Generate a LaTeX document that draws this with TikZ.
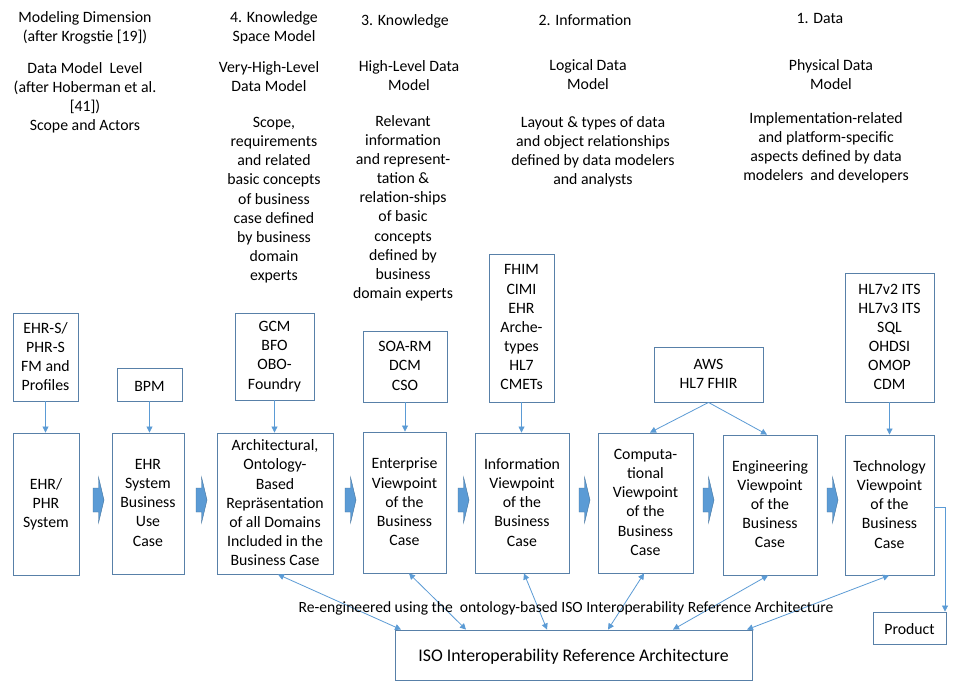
\documentclass[tikz,border=0pt]{standalone}
\usepackage{fontspec}
\setmainfont{Carlito}
\usetikzlibrary{arrows.meta}
\definecolor{boxc}{RGB}{88,128,168}
\definecolor{linec}{RGB}{91,155,213}
\definecolor{arrfill}{RGB}{91,155,213}
\definecolor{arrdraw}{RGB}{65,113,156}
\begin{document}
\begin{tikzpicture}[x=1pt,y=-1pt,
  txt/.style={font=\fontsize{15.8}{19.15}\selectfont, align=center, inner sep=0pt,
    execute at begin node={\rule{0pt}{15pt}}, execute at end node={\rule[-1.5pt]{0pt}{1.5pt}}},
  box/.style={txt, draw=boxc, line width=0.9pt, fill=white},
  conn/.style={draw=linec, line width=0.8pt, -{Triangle[length=6pt,width=6pt]}},
  dconn/.style={draw=linec, line width=0.8pt,
    {Triangle[length=6pt,width=6pt]}-{Triangle[length=6pt,width=6pt]}},
  barrow/.pic={\filldraw[fill=arrfill, draw=arrdraw, line width=0.4pt]
    (0,-12) -- (5.5,-12) -- (5.5,-23) -- (11,0) -- (5.5,23) -- (5.5,12) -- (0,12) -- cycle;}
]
\useasboundingbox[fill=white] (0,0) rectangle (957,695);

% header texts
\node[txt, anchor=north] (c1a) at (85,11) {Modeling Dimension\\(after Krogstie [19])};
\node[txt, anchor=north] (c1b) at (85,62) {Data Model\ \ Level\\(after Hoberman et al.\\{}[41])\\Scope and Actors};
\node[txt, anchor=north] (c2a) at (274,11) {4. Knowledge\\Space Model};
\node[txt, anchor=north] (c2b) at (269,61) {Very-High-Level\\Data Model};
\node[txt, anchor=north] (c2c) at (274,117) {Scope,\\requirements\\and related\\basic concepts\\of business\\case defined\\by business\\domain\\experts};
\node[txt, anchor=north] (c3a) at (405,10) {3. Knowledge};
\node[txt, anchor=north] (c3b) at (409,60) {High-Level Data\\Model};
\node[txt, anchor=north] (c3c) at (403,115) {Relevant\\information\\and represent-\\tation \&\\relation-ships\\of basic\\concepts\\defined by\\business\\domain experts};
\node[txt, anchor=north] (c4a) at (585,10) {2. Information};
\node[txt, anchor=north] (c4b) at (588,59) {Logical Data\\Model};
\node[txt, anchor=north] (c4c) at (593,116) {Layout \& types of data\\and object relationships\\defined by data modelers\\and analysts};
\node[txt, anchor=north] (c5a) at (820,8) {1. Data};
\node[txt, anchor=north] (c5b) at (831,59) {Physical Data\\Model};
\node[txt, anchor=north] (c5c) at (826,112) {Implementation-related\\and platform-specific\\aspects defined by data\\modelers\ \ and developers};

% upper boxes
\node[box, minimum width=65, minimum height=88] (ehrs) at (45.5,357) {EHR-S/\\PHR-S\\FM and\\Profiles};
\node[box, minimum width=65, minimum height=33] (bpm) at (149.5,384.5) {BPM};
\node[box, minimum width=79, minimum height=87] (gcm) at (274.5,356.5) {GCM\\BFO\\OBO-\\Foundry};
\node[box, minimum width=84, minimum height=71] (soa) at (405,366.5) {SOA-RM\\DCM\\CSO};
\node[box, minimum width=65, minimum height=148] (fhim) at (521.5,328) {FHIM\\CIMI\\EHR\\Arche-\\types\\HL7\\CMETs};
\node[box, minimum width=109, minimum height=55] (aws) at (708.5,374.5) {AWS\\HL7 FHIR};
\node[box, minimum width=89, minimum height=129] (hl7) at (889.5,337.5) {HL7v2 ITS\\HL7v3 ITS\\SQL\\OHDSI\\OMOP\\CDM};

% lower boxes
\node[box, minimum width=66, minimum height=142] (ehr) at (46,504) {EHR/\\PHR\\System};
\node[box, minimum width=72, minimum height=141] (bus) at (148,503.5) {EHR\\System\\Business\\Use\\Case};
\node[box, minimum width=116, minimum height=141] (arch) at (275,503.5) {Architectural,\\Ontology-\\Based\\Repräsentation\\of all Domains\\Included in the\\Business Case};
\node[box, minimum width=83, minimum height=141] (ent) at (404.5,502.5) {Enterprise\\Viewpoint\\of the\\Business\\Case};
\node[box, minimum width=94, minimum height=140] (info) at (522,503) {Information\\Viewpoint\\of the\\Business\\Case};
\node[box, minimum width=95, minimum height=140] (comp) at (645.5,503) {Computa-\\tional\\Viewpoint\\of the\\Business\\Case};
\node[box, minimum width=94, minimum height=140] (eng) at (770,505) {Engineering\\Viewpoint\\of the\\Business\\Case};
\node[box, minimum width=89, minimum height=140] (tech) at (889.5,505) {Technology\\Viewpoint\\of the\\Business\\Case};

% bottom
\node[box, minimum width=357, minimum height=50, font=\fontsize{17.8}{19}\selectfont] (iso) at (573.5,655) {ISO Interoperability Reference Architecture};
\node[box, minimum width=73, minimum height=32] (product) at (909.5,628) {Product};

% block arrows
\pic at (93,500) {barrow};
\pic at (196,500) {barrow};
\pic at (345,500) {barrow};
\pic at (458,500) {barrow};
\pic at (579,500) {barrow};
\pic at (703,500) {barrow};
\pic at (827,500) {barrow};

% vertical connectors
\draw[conn] (ehrs.south) -- (ehrs.south |- ehr.north);
\draw[conn] (bpm.south) -- (bpm.south |- bus.north);
\draw[conn] (gcm.south) -- (gcm.south |- arch.north);
\draw[conn] (soa.south) -- (soa.south |- ent.north);
\draw[conn] (fhim.south) -- (fhim.south |- info.north);
\draw[conn] (aws.south) -- ([xshift=4.5pt]comp.north);
\draw[conn] (aws.south) -- ([xshift=-3pt]eng.north);
\draw[conn] (hl7.south) -- (hl7.south |- tech.north);

% double arrows to ISO
\draw[dconn] ([xshift=3pt]arch.south) -- ([xshift=-172.5pt]iso.north);
\draw[dconn] ([xshift=4.5pt]ent.south) -- ([xshift=-107.5pt]iso.north);
\draw[dconn] ([xshift=2pt]info.south) -- ([xshift=-26.5pt]iso.north);
\draw[dconn] ([xshift=-1.5pt]comp.south) -- ([xshift=34.5pt]iso.north);
\draw[dconn] ([xshift=-2pt]eng.south) -- ([xshift=99.5pt]iso.north);
\draw[dconn] ([xshift=-0.5pt]tech.south) -- ([xshift=173.5pt]iso.north);

\node[txt, font=\fontsize{15.6}{19}\selectfont] (reeng) at (566,606) {Re-engineered using the\ \ ontology-based ISO Interoperability Reference Architecture};

% product connector
\coordinate (pc) at (945,507);
\draw[conn] (tech.east |- pc) -- (pc) -- (pc |- product.north);
\end{tikzpicture}
\end{document}
